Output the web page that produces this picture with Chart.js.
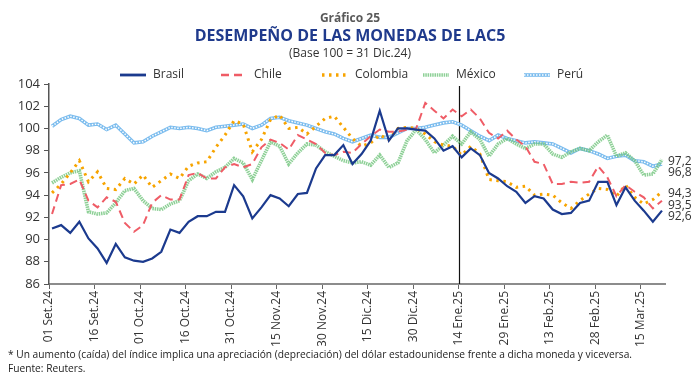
<!DOCTYPE html>
<html>
<head>
<meta charset="utf-8">
<script src="https://cdn.jsdelivr.net/npm/chart.js@4.4.1/dist/chart.umd.min.js"></script>
<style>
  body { margin: 0; background: #fff; font-family: "Open Sans", sans-serif; }
  #wrap { position: relative; width: 700px; height: 381px; }
  #cv { position: absolute; left: 0; top: 0; }
  .txt { position: absolute; left: 0; width: 700px; text-align: center; white-space: nowrap; }
  .t1 { top: 9px; font-size: 12px; font-weight: bold; color: #595959; }
  .t2 { top: 24px; font-size: 16px; font-weight: bold; color: #1f3a8c; }
  .t3 { top: 44px; font-size: 12px; color: #333; }
  .note { position: absolute; left: 8px; font-size: 10.2px; color: #222; white-space: nowrap; }
</style>
</head>
<body>
<div id="wrap">
  <canvas id="cv" width="700" height="381"></canvas>
  <div class="txt t1">Gráfico 25</div>
  <div class="txt t2">DESEMPEÑO DE LAS MONEDAS DE LAC5</div>
  <div class="txt t3">(Base 100 = 31 Dic.24)</div>
  <div class="note" style="top:347px">* Un aumento (caída) del índice implica una apreciación (depreciación) del dólar estadounidense frente a dicha moneda y viceversa.</div>
  <div class="note" style="top:361px">Fuente: Reuters.</div>
</div>
<script>
// days counted from 01 Sep 2024
const days = [1, 4, 7, 10, 13, 16, 19, 22, 25, 28,
  31, 34, 37, 40, 43, 46, 49, 52, 55, 58,
  61, 64, 67, 70, 73, 76, 79, 82, 85, 88,
  91, 94, 97, 100, 103, 106, 109, 112, 115, 118,
  121, 124, 127, 130, 133, 136, 139, 142, 145, 148,
  151, 154, 157, 160, 163, 166, 169, 172, 175, 178,
  181, 184, 187, 190, 193, 196, 199, 202];

const tickDays = [0, 15, 30, 45, 60, 75, 90, 105, 120, 135, 150, 165, 180, 195];
const tickLabels = ["01 Set.24", "16 Set.24", "01 Oct.24", "16 Oct.24", "31 Oct.24", "15 Nov.24",
  "30 Nov.24", "15 Dic.24", "30 Dic.24", "14 Ene.25", "29 Ene.25", "13 Feb.25", "28 Feb.25", "15 Mar.25"];
const markerDay = 135; // 14 Ene.25

const brasil = [91.0, 91.3, 90.6, 91.6, 90.1, 89.2, 87.9, 89.6, 88.4, 88.1,
  88.0, 88.3, 88.9, 90.9, 90.6, 91.6, 92.1, 92.1, 92.5, 92.5,
  94.9, 93.9, 91.9, 92.9, 94.0, 93.7, 93.0, 94.1, 94.2, 96.4,
  97.6, 97.6, 98.5, 96.8, 97.7, 98.9, 101.6, 98.9, 100.0, 100.0,
  99.9, 99.8, 99.1, 98.0, 98.4, 97.4, 98.2, 97.6, 96.0, 95.5,
  94.8, 94.3, 93.3, 93.9, 93.7, 92.7, 92.3, 92.4, 93.3, 93.5,
  95.2, 95.2, 93.1, 94.7, 93.5, 92.6, 91.6, 92.6];

const chile = [92.3, 94.9, 95.0, 95.4, 93.5, 92.9, 93.8, 93.4, 91.5, 90.7,
  91.3, 93.3, 94.0, 93.6, 93.6, 95.8, 96.0, 95.5, 95.5, 96.5,
  96.8, 96.5, 96.8, 98.3, 99.0, 98.7, 98.1, 99.4, 99.0, 98.6,
  97.8, 97.6, 97.9, 97.8, 98.6, 99.3, 99.9, 99.7, 99.7, 99.9,
  100.0, 102.3, 101.6, 100.9, 101.7, 101.1, 101.7, 100.9, 99.6, 99.1,
  99.8, 99.0, 98.4, 97.0, 96.8, 95.0, 95.0, 95.2, 95.1, 95.2,
  96.6, 95.6, 93.9, 94.9, 94.3, 93.8, 92.8, 93.5];

const colombia = [94.2, 95.0, 96.0, 97.1, 95.2, 96.1, 94.6, 94.5, 95.5, 95.0,
  95.8, 94.7, 95.3, 95.9, 95.5, 96.6, 96.9, 97.0, 98.3, 99.4,
  100.7, 100.4, 97.9, 99.0, 100.8, 101.2, 100.0, 100.1, 99.5, 100.2,
  100.9, 101.1, 100.1, 99.1, 98.4, 98.7, 99.4, 99.0, 100.0, 100.1,
  100.0, 99.5, 98.8, 98.5, 98.4, 97.6, 98.4, 97.7, 95.4, 95.3,
  95.2, 94.7, 94.8, 94.0, 94.1, 94.0, 93.3, 92.8, 93.5, 94.1,
  94.6, 94.5, 93.9, 94.9, 93.8, 93.2, 93.6, 94.3];

const mexico = [95.1, 95.6, 96.0, 96.2, 92.5, 92.3, 92.4, 93.3, 94.4, 94.6,
  93.5, 92.8, 92.7, 93.2, 93.5, 95.3, 95.9, 95.5, 96.1, 96.5,
  97.3, 96.9, 95.4, 97.1, 98.8, 98.4, 96.8, 97.8, 98.6, 98.5,
  97.9, 97.5, 97.1, 96.9, 97.0, 96.7, 97.6, 96.5, 96.9, 98.9,
  99.9, 99.0, 97.8, 98.5, 99.3, 98.6, 99.7, 99.0, 97.5, 98.6,
  99.1, 98.6, 98.2, 98.6, 98.6, 97.7, 97.4, 97.9, 98.2, 98.0,
  98.8, 99.4, 97.5, 97.8, 97.1, 95.8, 95.9, 97.2];

const peru = [100.2, 100.8, 101.1, 100.9, 100.3, 100.4, 99.9, 100.3, 99.5, 98.7,
  98.8, 99.3, 99.7, 100.1, 100.0, 100.1, 100.0, 99.8, 100.1, 100.2,
  100.3, 100.4, 100.0, 100.3, 100.9, 101.0, 100.7, 100.5, 100.3, 100.0,
  99.7, 99.5, 99.1, 98.8, 99.1, 99.4, 99.2, 99.2, 99.6, 100.0,
  100.0, 100.1, 100.3, 100.5, 100.6, 100.3, 99.8, 99.3, 98.9, 99.4,
  99.1, 98.9, 98.7, 98.8, 98.7, 98.6, 98.2, 97.8, 98.2, 98.0,
  97.7, 97.3, 97.5, 97.6, 97.1, 97.0, 96.6, 96.8];

const yTicks = { min: 86, max: 104, step: 2 };

function pts(values) {
  return values.map((v, i) => ({ x: days[i], y: v }));
}

Chart.defaults.font.family = '"Open Sans", sans-serif';
Chart.defaults.color = "#333";

// vertical line at 14 Ene.25
const markerLine = {
  id: "markerLine",
  beforeDatasetsDraw(chart) {
    const { ctx, chartArea, scales } = chart;
    const x = Math.round(scales.x.getPixelForValue(markerDay)) + 0.5;
    ctx.save();
    ctx.strokeStyle = "#111";
    ctx.lineWidth = 1.2;
    ctx.beginPath();
    ctx.moveTo(x, chartArea.top + 2);
    ctx.lineTo(x, chartArea.bottom);
    ctx.stroke();
    ctx.restore();
  },
};

// last values written at the right end
const endLabels = {
  id: "endLabels",
  afterDatasetsDraw(chart) {
    const { ctx, chartArea, scales } = chart;
    const items = chart.data.datasets
      .filter((d) => d.endLabel)
      .map((d) => {
        const v = d.data[d.data.length - 1].y;
        return { v: v, py: scales.y.getPixelForValue(v) };
      })
      .sort((a, b) => a.py - b.py);
    let prev = -Infinity;
    items.forEach((it) => {
      it.ly = Math.max(it.py + 2, prev + 11.5);
      prev = it.ly;
    });
    ctx.save();
    ctx.font = '12px "Open Sans"';
    ctx.fillStyle = "#333";
    ctx.textBaseline = "middle";
    items.forEach((it) => {
      ctx.fillText(it.v.toFixed(1).replace(".", ","), chartArea.right + 3, it.ly);
    });
    ctx.restore();
  },
};

// legend in evenly spaced columns, samples use each dataset's line style
const lineLegend = {
  id: "lineLegend",
  afterDraw(chart) {
    const { ctx } = chart;
    const y = 75;
    ctx.save();
    ctx.font = '12px "Open Sans"';
    ctx.textBaseline = "middle";
    chart.data.datasets
      .filter((d) => d.label)
      .forEach((d, i) => {
        const x0 = 120 + i * 101;
        ctx.strokeStyle = d.borderColor;
        ctx.lineWidth = Math.min(d.borderWidth + 0.6, 3.6);
        ctx.setLineDash(d.borderDash || []);
        ctx.beginPath();
        ctx.moveTo(x0, y);
        ctx.lineTo(x0 + 26, y);
        ctx.stroke();
        if (d.innerDash) {
          ctx.strokeStyle = "#fff";
          ctx.lineWidth = 1.5;
          ctx.setLineDash(d.innerDash);
          ctx.stroke();
        }
        ctx.setLineDash([]);
        ctx.fillStyle = "#333";
        ctx.fillText(d.label, x0 + 33, y);
      });
    ctx.restore();
  },
};

new Chart(document.getElementById("cv"), {
  type: "line",
  data: {
    datasets: [
      {
        label: "Brasil",
        data: pts(brasil),
        borderColor: "#1b3a8e",
        borderWidth: 2.2,
        endLabel: true,
      },
      {
        label: "Chile",
        data: pts(chile),
        borderColor: "#ef5c66",
        borderWidth: 2,
        borderDash: [8, 5],
        endLabel: true,
      },
      {
        label: "Colombia",
        data: pts(colombia),
        borderColor: "#f7a400",
        borderWidth: 3,
        borderDash: [2.5, 4.5],
        endLabel: true,
      },
      {
        label: "México",
        data: pts(mexico),
        borderColor: "rgba(112, 196, 124, 0.8)",
        borderWidth: 3.6,
        borderDash: [1.5, 0.8],
        endLabel: true,
      },
      {
        label: "",
        data: pts(peru),
        borderColor: "#ffffff",
        borderWidth: 1.5,
        borderDash: [1.5, 1.5],
      },
      {
        label: "Perú",
        data: pts(peru),
        borderColor: "#7bbcee",
        borderWidth: 3.6,
        innerDash: [1.5, 1.5],
        endLabel: true,
      },
    ],
  },
  options: {
    responsive: false,
    animation: false,
    events: [],
    layout: { padding: { top: 84, left: 8, right: 35, bottom: 35 } },
    elements: {
      point: { radius: 0 },
      line: { tension: 0, fill: false },
    },
    scales: {
      x: {
        type: "linear",
        min: 0,
        max: 203,
        afterFit(s) {
          s.height = 62;
        },
        afterBuildTicks(s) {
          s.ticks = tickDays.map((v) => ({ value: v }));
        },
        ticks: {
          autoSkip: false,
          maxRotation: 90,
          minRotation: 90,
          padding: 2,
          color: "#333",
          font: { size: 12 },
          callback: (v) => tickLabels[tickDays.indexOf(v)],
        },
        grid: { drawOnChartArea: false, drawTicks: true, tickLength: 5, color: "#666" },
        border: { color: "#8c8c8c", width: 2 },
      },
      y: {
        min: yTicks.min,
        max: yTicks.max,
        afterFit(s) {
          s.width = 41;
        },
        ticks: { stepSize: yTicks.step, padding: 4, color: "#333", font: { size: 13 } },
        grid: { drawOnChartArea: false, drawTicks: true, tickLength: 5, color: "#555" },
        border: { color: "#555", width: 1.5 },
      },
    },
    plugins: {
      tooltip: { enabled: false },
      legend: { display: false },
    },
  },
  plugins: [markerLine, endLabels, lineLegend],
});
</script>
</body>
</html>
